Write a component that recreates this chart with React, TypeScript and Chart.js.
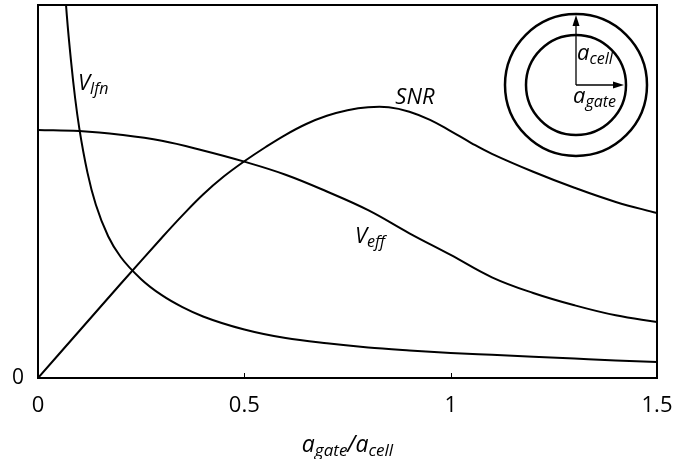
import React, { useEffect, useRef } from "react";
import { Chart, registerables } from "chart.js";

Chart.register(...registerables);

// ---- data ----
const X_TICKS = [0, 0.5, 1, 1.5];
const Y_TICKS = [0];

const SNR_X = [0, 0.1, 0.2, 0.3, 0.35, 0.4, 0.45, 0.5, 0.55, 0.6, 0.65, 0.7, 0.75, 0.8, 0.85, 0.9, 0.95, 1.0, 1.05, 1.1, 1.2, 1.3, 1.4, 1.5];
const SNR_Y = [0, 0.126, 0.252, 0.376, 0.436, 0.492, 0.54, 0.581, 0.618, 0.652, 0.681, 0.703, 0.718, 0.726, 0.726, 0.714, 0.692, 0.662, 0.63, 0.601, 0.553, 0.51, 0.472, 0.442];

const VEFF_X = [0, 0.1, 0.2, 0.3, 0.4, 0.5, 0.6, 0.7, 0.8, 0.9, 1.0, 1.1, 1.2, 1.3, 1.4, 1.5];
const VEFF_Y = [0.665, 0.662, 0.652, 0.636, 0.61, 0.58, 0.545, 0.5, 0.45, 0.388, 0.33, 0.27, 0.228, 0.195, 0.168, 0.15];

const VLFN_X = [0.05, 0.06, 0.07, 0.08, 0.09, 0.1, 0.12, 0.14, 0.17, 0.2, 0.25, 0.3, 0.35, 0.4, 0.5, 0.6, 0.7, 0.8, 0.9, 1.0, 1.1, 1.2, 1.3, 1.4, 1.5];
const VLFN_Y = [1.36, 1.13, 0.97, 0.85, 0.75, 0.67, 0.55, 0.465, 0.38, 0.325, 0.265, 0.222, 0.19, 0.165, 0.13, 0.107, 0.093, 0.082, 0.074, 0.067, 0.062, 0.057, 0.052, 0.047, 0.043];

const FONT = '"Open Sans", "DejaVu Sans", sans-serif';
const INK = "#000000";

const pts = (xs: number[], ys: number[]) => xs.map((x, i) => ({ x, y: ys[i] }));

function subText(
  ctx: CanvasRenderingContext2D,
  x: number,
  y: number,
  main: string,
  sub: string,
  mainSize: number,
  subSize: number,
  drop: number,
  draw = true
): number {
  ctx.font = `italic ${mainSize}px ${FONT}`;
  if (draw) ctx.fillText(main, x, y);
  const w = ctx.measureText(main).width;
  ctx.font = `italic ${subSize}px ${FONT}`;
  if (draw) ctx.fillText(sub, x + w, y + drop);
  return x + w + ctx.measureText(sub).width;
}

function arrowHead(ctx: CanvasRenderingContext2D, tx: number, ty: number, dx: number, dy: number) {
  const len = 11;
  const half = 3.5;
  const bx = tx - dx * len;
  const by = ty - dy * len;
  const px = -dy;
  const py = dx;
  ctx.beginPath();
  ctx.moveTo(tx, ty);
  ctx.lineTo(bx + px * half, by + py * half);
  ctx.lineTo(bx - px * half, by - py * half);
  ctx.closePath();
  ctx.fill();
}

const decorPlugin = {
  id: "decor",
  afterDraw(chart: any) {
    const { ctx, chartArea: ca, scales } = chart;
    const xs = scales.x;
    const ys = scales.y;
    ctx.save();
    ctx.strokeStyle = INK;
    ctx.fillStyle = INK;

    // frame
    ctx.lineWidth = 2;
    ctx.strokeRect(ca.left, ca.top, ca.right - ca.left, ca.bottom - ca.top);

    // inner tick marks
    ctx.lineWidth = 1;
    X_TICKS.forEach((v) => {
      if (v === X_TICKS[0] || v === X_TICKS[X_TICKS.length - 1]) return;
      const px = Math.round(xs.getPixelForValue(v)) + 0.5;
      ctx.beginPath();
      ctx.moveTo(px, ca.bottom);
      ctx.lineTo(px, ca.bottom - 5);
      ctx.stroke();
    });

    // curve labels
    ctx.textBaseline = "alphabetic";
    ctx.textAlign = "left";
    subText(ctx, xs.getPixelForValue(0.097), ys.getPixelForValue(0.771), "V", "lfn", 22, 16, 4);
    ctx.font = `italic 22px ${FONT}`;
    ctx.fillText("SNR", xs.getPixelForValue(0.866), ys.getPixelForValue(0.735));
    subText(ctx, xs.getPixelForValue(0.768), ys.getPixelForValue(0.362), "V", "eff", 22, 16, 4);

    // inset diagram
    const cx = ca.right - 81;
    const cy = ca.top + 80;
    ctx.lineWidth = 2.5;
    ctx.beginPath();
    ctx.arc(cx, cy, 71, 0, Math.PI * 2);
    ctx.stroke();
    ctx.beginPath();
    ctx.arc(cx, cy, 50, 0, Math.PI * 2);
    ctx.stroke();
    ctx.lineWidth = 1.3;
    ctx.beginPath();
    ctx.moveTo(cx, cy);
    ctx.lineTo(cx, cy - 62);
    ctx.stroke();
    arrowHead(ctx, cx, cy - 70, 0, -1);
    ctx.beginPath();
    ctx.moveTo(cx, cy);
    ctx.lineTo(cx + 40, cy);
    ctx.stroke();
    arrowHead(ctx, cx + 48, cy, 1, 0);
    subText(ctx, cx + 1, cy - 25, "a", "cell", 22, 16, 4);
    subText(ctx, cx - 3, cy + 18, "a", "gate", 22, 16, 4);

    // x-axis title a_gate / a_cell
    const ty = 452;
    let total = subText(ctx, 0, ty, "a", "gate", 23, 17, 4, false);
    ctx.font = `italic 23px ${FONT}`;
    total += ctx.measureText("/").width;
    total = subText(ctx, total, ty, "a", "cell", 23, 17, 4, false);
    let tx = (ca.left + ca.right) / 2 - total / 2;
    tx = subText(ctx, tx, ty, "a", "gate", 23, 17, 4);
    ctx.font = `italic 23px ${FONT}`;
    ctx.fillText("/", tx, ty);
    tx += ctx.measureText("/").width;
    subText(ctx, tx, ty, "a", "cell", 23, 17, 4);

    ctx.restore();
  },
};

function lineDs(label: string, xs: number[], ys: number[], monotone: boolean) {
  return {
    label,
    data: pts(xs, ys),
    borderColor: INK,
    borderWidth: 2,
    pointRadius: 0,
    fill: false,
    clip: 0,
    tension: 0.4,
    cubicInterpolationMode: monotone ? ("monotone" as const) : ("default" as const),
  };
}

export default function App() {
  const ref = useRef<HTMLCanvasElement | null>(null);

  useEffect(() => {
    if (!ref.current) return;
    const chart = new Chart(ref.current, {
      type: "line",
      data: {
        datasets: [
          lineDs("SNR", SNR_X, SNR_Y, false),
          lineDs("Veff", VEFF_X, VEFF_Y, false),
          lineDs("Vlfn", VLFN_X, VLFN_Y, true),
        ],
      },
      options: {
        animation: false,
        responsive: false,
        maintainAspectRatio: false,
        layout: { padding: { top: 5, right: 18, left: 0, bottom: 0 } },
        plugins: { legend: { display: false }, tooltip: { enabled: false } },
        scales: {
          x: {
            type: "linear",
            min: 0,
            max: 1.5,
            afterBuildTicks: (s: any) => {
              s.ticks = X_TICKS.map((v) => ({ value: v }));
            },
            afterFit: (s: any) => {
              s.height = 81;
              s.paddingLeft = 0;
              s.paddingRight = 0;
            },
            grid: { display: false, drawTicks: false },
            border: { display: false },
            ticks: {
              color: INK,
              padding: 15,
              maxRotation: 0,
              autoSkip: false,
              font: { family: FONT, size: 22 },
              callback: (v: any) => String(v),
            },
          },
          y: {
            type: "linear",
            min: 0,
            max: 1,
            afterBuildTicks: (s: any) => {
              s.ticks = Y_TICKS.map((v) => ({ value: v }));
            },
            afterFit: (s: any) => {
              s.width = 38;
              s.paddingTop = 0;
              s.paddingBottom = 0;
            },
            grid: { display: false, drawTicks: false },
            border: { display: false },
            ticks: {
              color: INK,
              padding: 14,
              font: { family: FONT, size: 21 },
              callback: (v: any) => String(v),
            },
          },
        },
      },
      plugins: [decorPlugin],
    });
    return () => chart.destroy();
  }, []);

  return (
    <div style={{ position: "fixed", left: 0, top: 0, width: 675, height: 459, background: "#fff" }}>
      <canvas ref={ref} width={675} height={459} />
    </div>
  );
}
